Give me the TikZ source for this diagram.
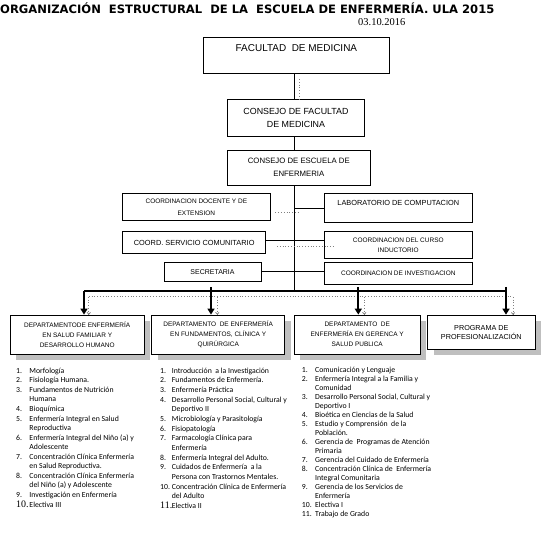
\documentclass[tikz,border=0pt]{standalone}
\usepackage{fontspec}
\setmainfont{Liberation Sans}
\newfontfamily\titlefont{DejaVu Sans}
\newfontfamily\listfont{Carlito}
\newfontfamily\datefont{Liberation Serif}
\usetikzlibrary{arrows.meta,shadows}
\newcommand{\fs}[2]{\fontsize{#1}{#2}\selectfont}

\begin{document}
\begin{tikzpicture}[x=1bp,y=-1bp]
\tikzstyle{box}=[rectangle,draw,line width=0.8bp,inner sep=0pt,align=center]
\tikzstyle{dept}=[box,fill=white,font=\fs{6.5}{10},drop shadow={shadow xshift=6bp,shadow yshift=-6bp,fill=gray!50,opacity=1}]
\tikzstyle{tiny}=[font=\fs{6.5}{10}]
\tikzstyle{busline}=[line width=2.2bp]
\tikzstyle{busarrow}=[line width=2.2bp,-{Triangle[width=7bp,length=6bp]}]
\tikzstyle{dotline}=[gray,dotted,line width=0.8bp]
\tikzstyle{dotarrow}=[dotline,-{To[length=2.5bp,width=4bp]}]
\tikzstyle{plan}=[anchor=base west,inner sep=0pt]
\useasboundingbox (0,0) rectangle (551,534);
% titulo
\node [anchor=west,inner sep=0pt,font=\titlefont\bfseries\fs{11.6}{13}] (title) at (0,8) {ORGANIZACIÓN\ \ ESTRUCTURAL\ \ DE LA\ \ ESCUELA DE ENFERMERÍA. ULA 2015};
\node [anchor=west,inner sep=0pt,font=\datefont\fs{10.5}{12}] (date) at (358,22) {03.10.2016};
% autoridades
\node [box,minimum width=186bp,minimum height=35.5bp,font=\fs{10}{12}] (fac) at (296.4,55.4) {FACULTAD\ \ DE MEDICINA\\[2bp]\mbox{}};
\node [box,minimum width=136.7bp,minimum height=37bp,font=\fs{8.9}{12.7}] (cfac) at (296,117.9) {CONSEJO DE FACULTAD\\DE MEDICINA};
\node [box,minimum width=142.3bp,minimum height=35bp,font=\fs{7.8}{12.7}] (cesc) at (298.8,167.5) {CONSEJO DE ESCUELA DE\\ENFERMERIA};
% coordinaciones
\node [box,tiny,minimum width=147.3bp,minimum height=27.4bp,font=\fs{6.5}{11.6}] (doc) at (196.35,207) {COORDINACION DOCENTE Y DE\\EXTENSION};
\node [box,minimum width=148bp,minimum height=29bp,font=\fs{7.4}{9}] (lab) at (398.3,207.8) {LABORATORIO DE COMPUTACION\\\mbox{}};
\node [box,minimum width=143bp,minimum height=21.6bp,font=\fs{7.4}{9}] (serv) at (194.2,242.5) {COORD. SERVICIO COMUNITARIO};
\node [box,tiny,minimum width=148bp,minimum height=26.6bp] (curso) at (398.3,245) {COORDINACION DEL CURSO\\INDUCTORIO};
\node [box,minimum width=97bp,minimum height=18.7bp,font=\fs{7}{9}] (secr) at (212.5,271.6) {SECRETARIA};
\node [box,tiny,minimum width=148bp,minimum height=22bp] (inv) at (398.3,273.3) {COORDINACION DE INVESTIGACION};
% departamentos
\node [dept,minimum width=134.3bp,minimum height=39bp] (dfam) at (77.2,334.5) {DEPARTAMENTODE ENFERMERÍA\\EN SALUD FAMILIAR Y\\DESARROLLO HUMANO};
\node [dept,minimum width=133bp,minimum height=39bp] (dfun) at (218.2,334.5) {DEPARTAMENTO\ \ DE ENFERMERÍA\\EN FUNDAMENTOS, CLÍNICA Y\\QUIRÚRGICA};
\node [dept,minimum width=125.7bp,minimum height=39bp] (dger) at (357.2,334.5) {DEPARTAMENTO\ \ DE\\ENFERMERÍA EN GERENCA Y\\SALUD PUBLICA};
\node [dept,minimum width=107.3bp,minimum height=34.3bp,font=\fs{7.25}{9.3}] (prof) at (481.3,332.2) {PROGRAMA DE\\PROFESIONALIZACIÓN};
% tronco
\coordinate (bus) at (294.4,290.8);
\coordinate (f1) at (299,79);
\draw (fac.south -| bus) -- (cfac.north -| bus);
\draw[dotline] (f1) -- (f1 |- cfac.north);
\draw (cfac.south -| bus) -- (cesc.north -| bus);
\draw (cesc.south -| bus) -- (bus);
\draw (lab.west -| bus) -- (lab.west);
\draw[dotline] ([shift={(5bp,-5bp)}]doc.east) -- ++(24,0);
\draw ([yshift=2.5bp]serv.east) -- ([yshift=2.5bp]serv.east -| curso.west);
\draw[dotline] ([shift={(11bp,-3.5bp)}]serv.east) -- ([shift={(11bp,-3.5bp)}]serv.east -| curso.west);
\draw (secr.east) -- (secr.east -| inv.west);
% barra hacia departamentos
\coordinate (b1) at (84,290.8);
\coordinate (b2) at (211,290.8);
\coordinate (b3) at (358.3,290.8);
\coordinate (b4) at (506,290.8);
\coordinate (c1) at (88.8,296.8);
\coordinate (c2) at (217.3,296.8);
\coordinate (c3) at (364.3,296.8);
\coordinate (c4) at (513,296.8);
\draw[dotline] (c1) -- (c4);
\draw[dotarrow] (c1) -- (c1 |- dfam.north);
\draw[dotarrow] (c2) -- (c2 |- dfun.north);
\draw[dotarrow] (c3) -- (c3 |- dger.north);
\draw[dotarrow] (c4) -- (c4 |- prof.north);
\draw[busline] (b1) -- (b4);
\draw[busarrow] (b1) -- (b1 |- dfam.north);
\draw[busarrow] ([yshift=4bp]b2) -- (b2 |- dfun.north);
\draw[busarrow] ([yshift=4bp]b3) -- (b3 |- dger.north);
\draw[busarrow] ([yshift=4bp]b4) -- (b4 |- prof.north);
% asignaturas
\node [plan,font=\listfont\fs{7.8}{9.6}] (lfam) at (16,373.2) {%
\begin{tabular}[t]{@{}p{13.3bp}@{}l@{}}
1. & Morfología\\
2. & Fisiología Humana.\\
3. & Fundamentos de Nutrición\\
 & Humana\\
4. & Bioquímica\\
5. & Enfermería Integral en Salud\\
 & Reproductiva\\
6. & Enfermería Integral del Niño (a) y\\
 & Adolescente\\
7. & Concentración Clínica Enfermería\\
 & en Salud Reproductiva.\\
8. & Concentración Clínica Enfermería\\
 & del Niño (a) y Adolescente\\
9. & Investigación en Enfermería\\
{\datefont\fs{10}{9.6}10.} & Electiva III
\end{tabular}};
\node [plan,font=\listfont\fs{7.8}{9.7}] (lfun) at (160,373.2) {%
\begin{tabular}[t]{@{}p{11.7bp}@{}l@{}}
1. & Introducción\ \ a la Investigación\\
2. & Fundamentos de Enfermería.\\
3. & Enfermería Práctica\\
4. & Desarrollo Personal Social, Cultural y\\
 & Deportivo II\\
5. & Microbiología y Parasitología\\
6. & Fisiopatología\\
7. & Farmacología Clínica para\\
 & Enfermería\\
8. & Enfermería Integral del Adulto.\\
9. & Cuidados de Enfermería\ \ a la\\
 & Persona con Trastornos Mentales.\\
10. & Concentración Clínica de Enfermería\\
 & del Adulto\\
{\datefont\fs{10}{9.7}11.} & Electiva II
\end{tabular}};
\node [plan,font=\listfont\fs{7.8}{9.06}] (lger) at (301.7,372.5) {%
\begin{tabular}[t]{@{}p{13.3bp}@{}l@{}}
1. & Comunicación y Lenguaje\\
2. & Enfermería Integral a la Familia y\\
 & Comunidad\\
3. & Desarrollo Personal Social, Cultural y\\
 & Deportivo I\\
4. & Bioética en Ciencias de la Salud\\
5. & Estudio y Comprensión\ \ de la\\
 & Población.\\
6. & Gerencia de\ \ Programas de Atención\\
 & Primaria\\
7. & Gerencia del Cuidado de Enfermería\\
8. & Concentración Clínica de\ \ Enfermería\\
 & Integral Comunitaria\\
9. & Gerencia de los Servicios de\\
 & Enfermería\\
10. & Electiva I\\
11. & Trabajo de Grado
\end{tabular}};
\end{tikzpicture}
\end{document}
